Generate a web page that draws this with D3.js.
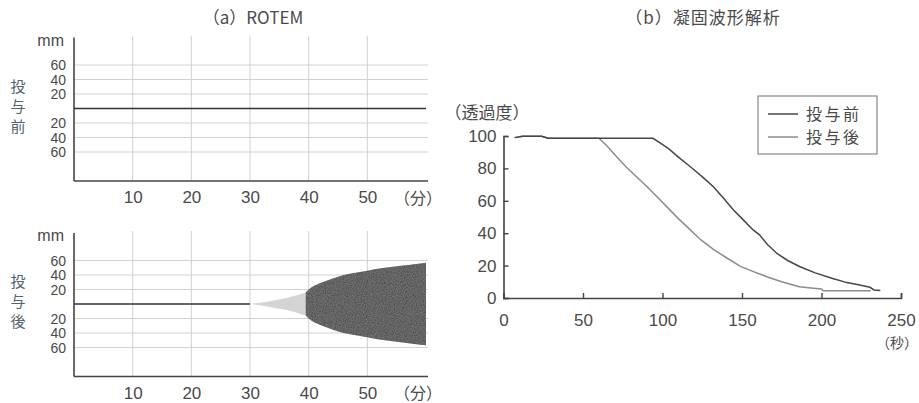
<!DOCTYPE html>
<html>
<head>
<meta charset="utf-8">
<script src="https://cdn.jsdelivr.net/npm/d3@7"></script>
<style>
  body { margin: 0; background: #fff; }
  svg text { font-family: "Liberation Sans", Arial, sans-serif; fill: #4a4a4a; }
  .jp { font-family: "Noto Sans CJK JP", sans-serif; }
</style>
</head>
<body>
<svg id="chart" width="919" height="403"></svg>
<script>
// ROTEM panel (a)
const rotemTicks = [10, 20, 30, 40, 50];
const mmTicks = [60, 40, 20, -20, -40, -60];
const flatEnd = 30;
// light (early) clot amplitude, mm
const lightTime = [30, 32, 34, 36, 38, 39.5];
const lightAmp = [0, 2, 5, 8, 12, 16];
// dark (firm) clot amplitude, mm
const darkTime = [39.5, 40, 42, 44, 46, 48, 50, 52, 54, 56, 58, 60];
const darkAmp = [16, 20, 29, 35, 40, 43, 46, 49, 51, 53, 55, 57];

// Panel (b) transmittance curves
const waveTicksX = [0, 50, 100, 150, 200, 250];
const waveTicksY = [0, 20, 40, 60, 80, 100];
const beforeT = [7, 12, 24, 28, 94, 98, 104, 110, 115, 120, 126, 132, 138, 144.5, 150, 157, 161, 166, 172, 179, 186.5, 196, 207, 216, 224, 230.5, 233, 237];
const beforeV = [99, 99.8, 99.8, 98.6, 98.6, 96, 92, 87, 83, 79, 74, 68.7, 62, 54.5, 49, 42, 39, 33, 27.5, 23, 19.3, 15.5, 12, 9.5, 8, 6.6, 5, 4.6];
const afterT = [7, 12, 24, 28, 60, 65, 70, 77, 83, 90, 97, 104, 110, 117, 124, 132, 140, 149, 158, 166, 175, 186, 195, 200, 201, 231];
const afterV = [99, 99.8, 99.8, 98.6, 98.6, 94, 88.5, 81, 75.5, 69, 62, 55, 49, 42.5, 36, 30, 25, 19.5, 16, 13, 10, 7, 6, 5.5, 4.5, 4.5];
const legendLabels = ["投与前", "投与後"];
const seriesColors = ["#464646", "#8c8c8c"];

const svg = d3.select("#chart");

// speckle texture for the clot traces
const defs = svg.append("defs");
const f = defs.append("filter").attr("id", "speckle").attr("x", 0).attr("y", 0).attr("width", 1).attr("height", 1);
f.append("feTurbulence").attr("type", "fractalNoise").attr("baseFrequency", 0.9).attr("numOctaves", 2).attr("result", "noise");
f.append("feColorMatrix").attr("in", "noise").attr("type", "matrix")
  .attr("values", "0 0 0 0 1  0 0 0 0 1  0 0 0 0 1  0 0 0 0.2 0").attr("result", "dots");
f.append("feComposite").attr("in", "dots").attr("in2", "SourceGraphic").attr("operator", "in").attr("result", "clip");
f.append("feMerge").call(m => { m.append("feMergeNode").attr("in", "SourceGraphic"); m.append("feMergeNode").attr("in", "clip"); });

// ---------- panel (a) ----------
const xA = d3.scaleLinear().domain([0, 60]).range([74, 426]);

svg.append("text").attr("class", "jp").attr("x", 253).attr("y", 24).attr("text-anchor", "middle")
  .style("font-size", "17px").text("（a）ROTEM");

function rotemPanel(cy, label, trace) {
  const y = d3.scaleLinear().domain([-100, 100]).range([cy + 72.5, cy - 72.5]);
  const g = svg.append("g");

  // grid
  g.selectAll(".vgrid").data(rotemTicks).join("line")
    .attr("x1", d => xA(d)).attr("x2", d => xA(d))
    .attr("y1", cy - 73).attr("y2", cy + 72.5)
    .attr("stroke", "#d2d2d2").attr("stroke-width", 1);
  g.selectAll(".hgrid").data(mmTicks).join("line")
    .attr("x1", xA(0)).attr("x2", 428)
    .attr("y1", d => y(d)).attr("y2", d => y(d))
    .attr("stroke", "#d2d2d2").attr("stroke-width", 1);

  // y labels (stacked tight, as in the print)
  g.selectAll(".ylab").data(mmTicks).join("text")
    .attr("x", 66).attr("y", d => y(d)).attr("dy", "0.36em")
    .attr("text-anchor", "end").style("font-size", "14px")
    .text(d => Math.abs(d));
  g.append("text").attr("x", 64).attr("y", cy - 63).attr("text-anchor", "end")
    .style("font-size", "16px").text("mm");

  // vertical side label
  g.selectAll(".side").data(Array.from(label)).join("text")
    .attr("class", "jp").attr("x", 18).attr("y", (d, i) => cy - 22 + i * 20)
    .attr("dy", "0.35em").attr("text-anchor", "middle")
    .style("font-size", "15px").style("fill", "#53636f").text(d => d);

  // x axis
  const ax = g.append("g").attr("transform", `translate(0,${cy + 72.5})`)
    .call(d3.axisBottom(xA).tickValues(rotemTicks).tickSize(0).tickPadding(10));
  ax.select(".domain").remove();
  ax.selectAll("text").style("font-size", "17px").attr("fill", "#4a4a4a");
  g.append("text").attr("class", "jp").attr("x", 418).attr("y", cy + 95)
    .attr("text-anchor", "middle").style("font-size", "16px").text("（分）");

  // axis lines
  g.append("line").attr("x1", xA(0)).attr("x2", xA(0)).attr("y1", cy - 71).attr("y2", cy + 72.5)
    .attr("stroke", "#444").attr("stroke-width", 1.6);
  g.append("line").attr("x1", xA(0)).attr("x2", 428).attr("y1", cy + 72.5).attr("y2", cy + 72.5)
    .attr("stroke", "#444").attr("stroke-width", 1.6);

  trace(g, y);
}

rotemPanel(108.5, "投与前", (g, y) => {
  g.append("line").attr("x1", xA(0)).attr("x2", xA(60)).attr("y1", y(0)).attr("y2", y(0))
    .attr("stroke", "#333").attr("stroke-width", 1.6);
});

rotemPanel(304, "投与後", (g, y) => {
  g.append("line").attr("x1", xA(0)).attr("x2", xA(flatEnd)).attr("y1", y(0)).attr("y2", y(0))
    .attr("stroke", "#333").attr("stroke-width", 1.6);
  const area = d3.area().x(d => xA(d[0])).y0(d => y(-d[1])).y1(d => y(d[1])).curve(d3.curveMonotoneX);
  g.append("path").datum(d3.zip(lightTime, lightAmp)).attr("d", area)
    .attr("fill", "#cfcfcf").attr("filter", "url(#speckle)");
  g.append("path").datum(d3.zip(darkTime, darkAmp)).attr("d", area)
    .attr("fill", "#333").attr("filter", "url(#speckle)");
});

// ---------- panel (b) ----------
const xB = d3.scaleLinear().domain([0, 250]).range([503.5, 901]);
const yB = d3.scaleLinear().domain([0, 100]).range([298, 136]);

svg.append("text").attr("class", "jp").attr("x", 703).attr("y", 24).attr("text-anchor", "middle")
  .style("font-size", "17px").style("letter-spacing", "1px").text("（b）凝固波形解析");

const axB = svg.append("g").attr("transform", "translate(0,298)")
  .call(d3.axisBottom(xB).tickValues(waveTicksX).tickSize(-5).tickPadding(16));
const ayB = svg.append("g").attr("transform", `translate(${xB(0)},0)`)
  .call(d3.axisLeft(yB).tickValues(waveTicksY).tickSize(-5).tickPadding(7));
[axB, ayB].forEach(a => {
  a.select(".domain").attr("stroke", "#444").attr("stroke-width", 1.6);
  a.selectAll(".tick line").attr("stroke", "#444").attr("stroke-width", 1.4);
  a.selectAll("text").style("font-size", "17px").attr("fill", "#4a4a4a");
});

svg.append("text").attr("class", "jp").attr("x", 487).attr("y", 113).attr("dy", "0.35em")
  .attr("text-anchor", "middle").style("font-size", "17px").text("（透過度）");
svg.append("text").attr("class", "jp").attr("x", 918).attr("y", 343).attr("dy", "0.35em")
  .attr("text-anchor", "end").style("font-size", "14px").text("（秒）");

const line = d3.line().x(d => xB(d[0])).y(d => yB(d[1]));
svg.append("path").datum(d3.zip(afterT, afterV)).attr("d", line)
  .attr("fill", "none").attr("stroke", seriesColors[1]).attr("stroke-width", 1.5);
svg.append("path").datum(d3.zip(beforeT, beforeV)).attr("d", line)
  .attr("fill", "none").attr("stroke", seriesColors[0]).attr("stroke-width", 1.5);

// legend
const leg = svg.append("g");
leg.append("rect").attr("x", 758).attr("y", 96).attr("width", 119).attr("height", 58)
  .attr("fill", "#fff").attr("stroke", "#888").attr("stroke-width", 1.2);
legendLabels.forEach((lab, i) => {
  const ly = 114 + i * 23;
  leg.append("line").attr("x1", 768).attr("x2", 798).attr("y1", ly).attr("y2", ly)
    .attr("stroke", seriesColors[i]).attr("stroke-width", 1.5);
  leg.append("text").attr("class", "jp").attr("x", 806).attr("y", ly).attr("dy", "0.35em")
    .style("font-size", "16px").style("letter-spacing", "2.5px").text(lab);
});
</script>
</body>
</html>
